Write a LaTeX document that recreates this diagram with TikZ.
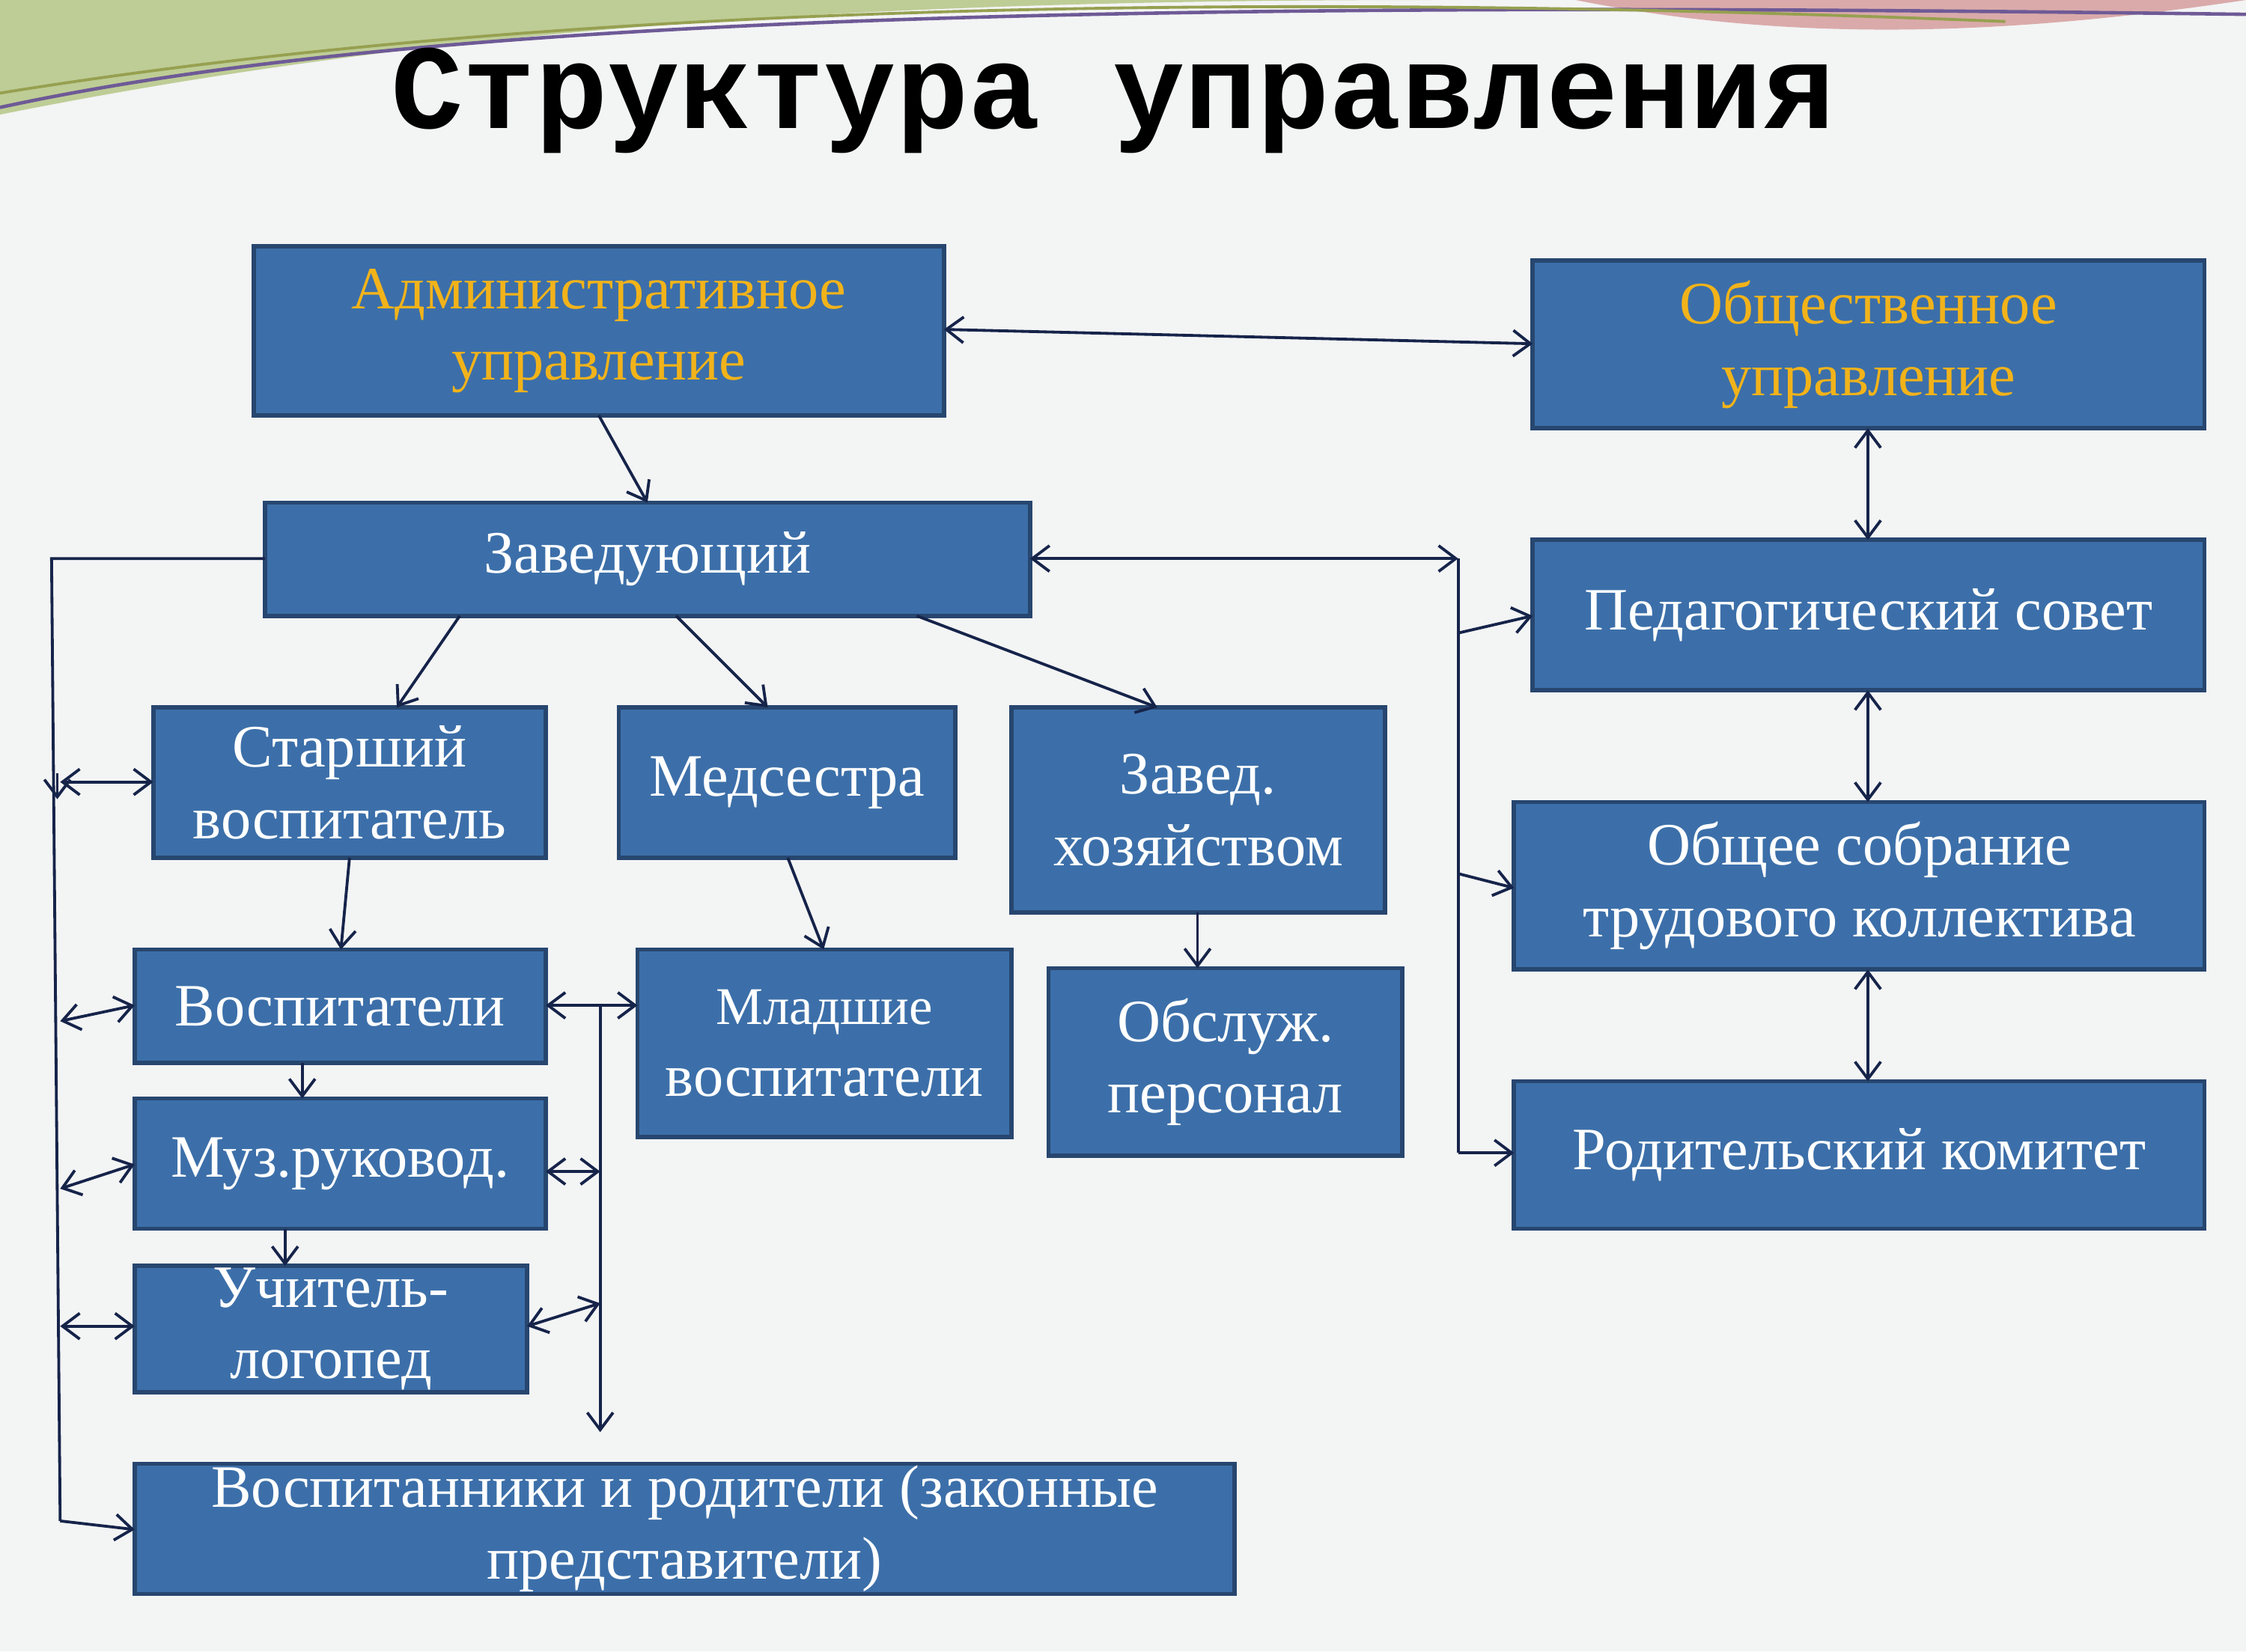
\documentclass[tikz,border=0pt]{standalone}
\usepackage{fontspec}
\setmainfont{Liberation Serif}
\newfontfamily\titlefont{Liberation Mono}
\usetikzlibrary{arrows.meta}
\definecolor{boxfill}{HTML}{3C6FA9}
\definecolor{boxline}{HTML}{27466F}
\definecolor{arr}{HTML}{16244A}
\definecolor{org}{HTML}{F2B31A}
\definecolor{bg}{HTML}{F3F4F4}
\definecolor{dgreen}{HTML}{BECD96}
\definecolor{dred}{HTML}{D08C8C}
\definecolor{dpurple}{HTML}{6E5A96}
\definecolor{dolive}{HTML}{96A050}
\tikzset{
  bx/.style={draw=boxline,line width=1.5pt,fill=boxfill,text=white,align=center,font=\fontsize{21}{25}\selectfont,inner sep=0pt},
  ar/.style={draw=arr,line width=1pt,-{Straight Barb[length=6pt,width=9pt]}},
  dar/.style={draw=arr,line width=1pt,{Straight Barb[length=6pt,width=9pt]}-{Straight Barb[length=6pt,width=9pt]}},
  ln/.style={draw=arr,line width=1pt}
}
\begin{document}
\begin{tikzpicture}[x=0.5pt,y=-0.5pt]
\useasboundingbox (0,0) rectangle (1568,1153);
\fill[bg] (0,0) rectangle (1568,1153);
\fill[dgreen] (0,0) -- (0,80) .. controls (300,20) and (600,0) .. (1000,0) -- cycle;
\fill[dred,opacity=0.7] (1100,0) .. controls (1250,30) and (1400,25) .. (1568,0) -- cycle;
\draw[dpurple,line width=1.2pt] (0,75) .. controls (300,10) and (800,0) .. (1568,10);
\draw[dolive,line width=1pt] (0,65) .. controls (400,0) and (900,-5) .. (1400,15);
\node[font=\titlefont\bfseries\fontsize{42}{42}\selectfont,text=black] (title) at (777,70) {Структура управления};
\newcommand{\bxnode}[6]{\node[bx,minimum width={(#4-#2)*0.5pt},minimum height={(#5-#3)*0.5pt}] (#1) at ({(#2+#4)/2},{(#3+#5)/2}) {#6};}
\bxnode{adm}{177}{172}{659}{290}{\textcolor{org}{Административное}\\\textcolor{org}{управление}}
\bxnode{obs}{1070}{182}{1539}{299}{\textcolor{org}{Общественное}\\\textcolor{org}{управление}}
\bxnode{zav}{185}{351}{719}{430}{Заведующий}
\bxnode{ped}{1070}{377}{1539}{482}{Педагогический совет}
\bxnode{st}{107}{494}{381}{599}{Старший\\воспитатель}
\bxnode{med}{432}{494}{667}{599}{Медсестра}
\bxnode{hoz}{706}{494}{967}{637}{Завед.\\хозяйством}
\bxnode{sob}{1057}{560}{1539}{677}{Общее собрание\\трудового коллектива}
\bxnode{vos}{94}{663}{381}{742}{Воспитатели}
\bxnode{mlad}{445}{663}{706}{794}{\fontsize{18.5}{22}\selectfont Младшие\\воспитатели}
\bxnode{obsl}{732}{676}{979}{807}{Обслуж.\\персонал}
\bxnode{rod}{1057}{755}{1539}{858}{Родительский комитет}
\bxnode{muz}{94}{767}{381}{858}{Муз.руковод.}
\bxnode{uch}{94}{884}{368}{972}{Учитель-\\логопед}
\bxnode{vsp}{94}{1022}{862}{1113}{Воспитанники и родители (законные\\представители)}
\draw[dar] (659,230) -- (1070,240);
\draw[ar] (418,290) -- (452,351);
\draw[dar] (1304,299) -- (1304,377);
\draw[dar] (1304,482) -- (1304,560);
\draw[dar] (1304,677) -- (1304,755);
\coordinate (r1) at (1018,390);
\coordinate (r2) at (1018,805);
\draw[dar] (719,390) -- (r1);
\draw[ln] (r1) -- (r2);
\draw[ar] (1018,442) -- (1070,430);
\draw[ar] (1018,610) -- (1057,620);
\draw[ar] (r2) -- (1057,805);
\draw[ar] (321,430) -- (277,494);
\draw[ar] (472,430) -- (536,494);
\draw[ar] (640,430) -- (808,494);
\coordinate (l0) at (36,390);
\coordinate (l1) at (42,1062);
\draw[ln] (185,390) -- (l0) -- (l1);
\draw[ar] (l1) -- (94,1068);
\draw[ar] (40,540) -- (40,558);
\draw[dar] (42,546) -- (107,546);
\draw[dar] (42,713) -- (94,702);
\draw[dar] (42,830) -- (94,813);
\draw[dar] (42,926) -- (94,926);
\draw[ar] (244,599) -- (238,663);
\draw[ar] (550,599) -- (575,663);
\draw[ar] (836,637) -- (836,676);
\draw[ar] (211,742) -- (211,767);
\draw[ar] (199,858) -- (199,884);
\draw[dar] (381,702) -- (445,702);
\draw[ar] (419,702) -- (419,1000);
\draw[dar] (381,818) -- (419,818);
\draw[dar] (368,926) -- (419,910);
\end{tikzpicture}
\end{document}
